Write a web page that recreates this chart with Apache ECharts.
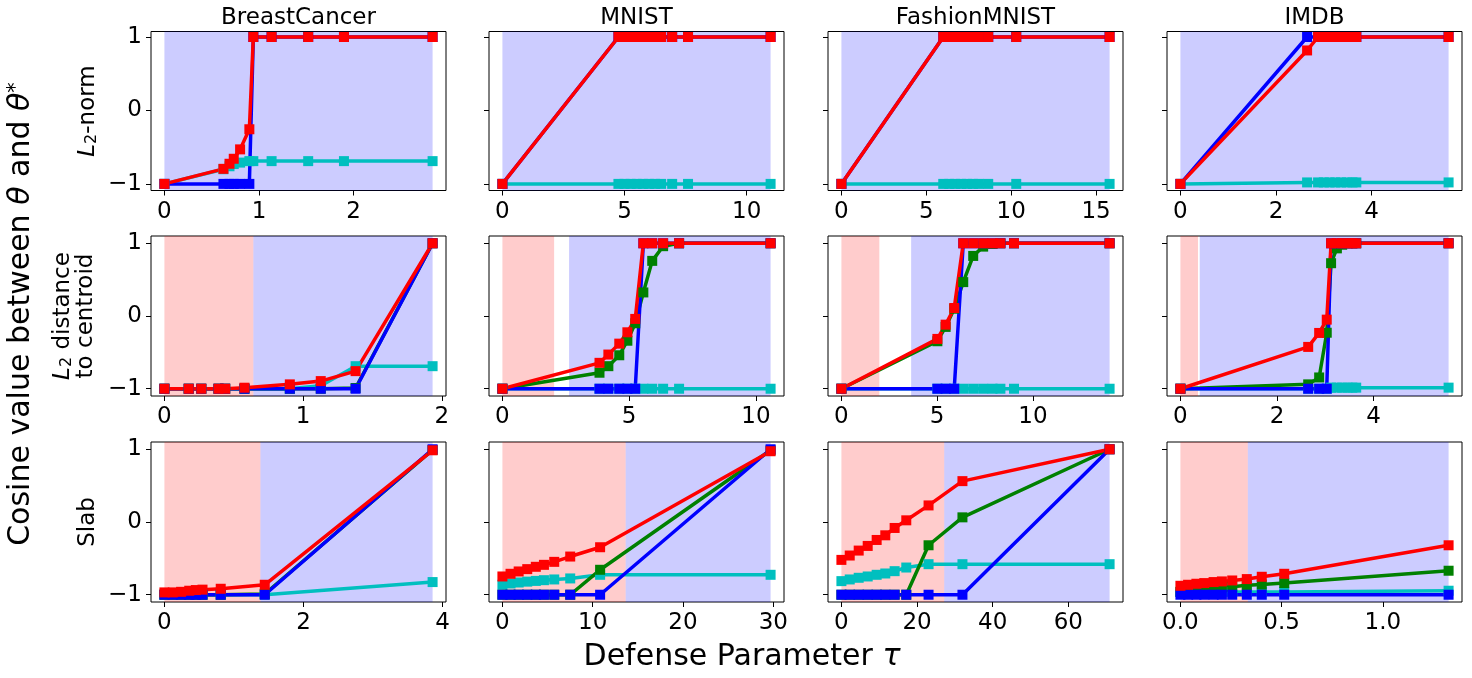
<!DOCTYPE html>
<html><head><meta charset="utf-8">
<script src="https://cdn.jsdelivr.net/npm/echarts@6/dist/echarts.min.js"></script>
<style>html,body{margin:0;padding:0;background:#fff}#c{width:1472px;height:678px}</style>
</head><body><div id="c"></div>
<script>
// ---------- DATA ----------
const datasetNames = ['BreastCancer', 'MNIST', 'FashionMNIST', 'IMDB'];
const yTicks = [-1, 0, 1];

// Row 1: L2-norm defense
const bc1_tau  = [0, 0.624, 0.688, 0.733, 0.80, 0.898, 0.94, 1.133, 1.52, 1.898, 2.835];
const bc1_cyan = [-1, -0.80, -0.76, -0.73, -0.71, -0.69, -0.69, -0.69, -0.69, -0.69, -0.69];
const bc1_blue = [-1, -1, -1, -1, -1, -1, 1, 1, 1, 1, 1];
const bc1_red  = [-1, -0.795, -0.726, -0.658, -0.53, -0.256, 1, 1, 1, 1, 1];
const bc1_ticks = [0, 1, 2];

const mn1_tau  = [0, 4.75, 5.0, 5.25, 5.5, 5.75, 6.0, 6.25, 6.5, 6.95, 7.6, 10.98];
const mn1_cyan = [-1, -1, -1, -1, -1, -1, -1, -1, -1, -1, -1, -1];
const mn1_blue = [-1, 1, 1, 1, 1, 1, 1, 1, 1, 1, 1, 1];
const mn1_red  = [-1, 1, 1, 1, 1, 1, 1, 1, 1, 1, 1, 1];
const mn1_ticks = [0, 5, 10];

const fm1_tau  = [0, 6.0, 6.35, 6.7, 7.05, 7.4, 7.75, 8.1, 8.65, 10.3, 15.8];
const fm1_cyan = [-1, -1, -1, -1, -1, -1, -1, -1, -1, -1, -1];
const fm1_blue = [-1, 1, 1, 1, 1, 1, 1, 1, 1, 1, 1];
const fm1_red  = [-1, 1, 1, 1, 1, 1, 1, 1, 1, 1, 1];
const fm1_ticks = [0, 5, 10, 15];

const im1_tau  = [0, 2.65, 2.88, 3.0, 3.12, 3.24, 3.36, 3.48, 3.6, 3.68, 5.61];
const im1_cyan = [-1, -0.98, -0.98, -0.98, -0.98, -0.98, -0.98, -0.98, -0.98, -0.98, -0.98];
const im1_blue = [-1, 1, 1, 1, 1, 1, 1, 1, 1, 1, 1];
const im1_red  = [-1, 0.817, 1, 1, 1, 1, 1, 1, 1, 1, 1];
const im1_ticks = [0, 2, 4];

// Row 2: L2 distance to centroid defense
const bc2_tau   = [0, 0.175, 0.266, 0.39, 0.438, 0.577, 0.904, 1.127, 1.378, 1.933];
const bc2_cyan  = [-1, -1, -1, -1, -1, -1, -1, -0.96, -0.69, -0.69];
const bc2_green = [-1, -1, -1, -1, -1, -1, -1, -1, -0.99, 1];
const bc2_blue  = [-1, -1, -1, -1, -1, -1, -1, -1, -1, 1];
const bc2_red   = [-1, -1, -1, -1, -1, -0.986, -0.94, -0.895, -0.758, 1];
const bc2_spans = [0, 0.641, 0.641, 1.933];
const bc2_ticks = [0, 1, 2];

const mn2_tau   = [0, 3.83, 4.18, 4.61, 4.93, 5.24, 5.56, 5.91, 6.34, 6.97, 10.58];
const mn2_cyan  = [-1, -1, -1, -1, -1, -1, -1, -1, -1, -1, -1];
const mn2_green = [-1, -0.78, -0.69, -0.54, -0.34, -0.1, 0.324, 0.758, 0.96, 1, 1];
const mn2_blue  = [-1, -1, -1, -1, -1, -1, 1, 1, 1, 1, 1];
const mn2_red   = [-1, -0.644, -0.53, -0.38, -0.224, -0.04, 1, 1, 1, 1, 1];
const mn2_spans = [0, 2.04, 2.63, 10.58];
const mn2_ticks = [0, 5, 10];

const fm2_tau   = [0, 5.01, 5.44, 5.89, 6.36, 6.88, 7.4, 7.89, 8.3, 9.01, 14.0];
const fm2_cyan  = [-1, -1, -1, -1, -1, -1, -1, -1, -1, -1, -1];
const fm2_green = [-1, -0.347, -0.15, 0.1, 0.466, 0.826, 0.954, 0.99, 1, 1, 1];
const fm2_blue  = [-1, -1, -1, -1, 1, 1, 1, 1, 1, 1, 1];
const fm2_red   = [-1, -0.315, -0.119, 0.11, 1, 1, 1, 1, 1, 1, 1];
const fm2_spans = [0, 1.98, 3.64, 14.0];
const fm2_ticks = [0, 5, 10];

const im2_tau   = [0, 2.646, 2.873, 3.03, 3.12, 3.24, 3.35, 3.46, 3.56, 3.64, 5.553];
const im2_cyan  = [-1, -1, -1, -1, -0.985, -0.985, -0.985, -0.985, -0.985, -0.985, -0.985];
const im2_green = [-1, -0.94, -0.845, -0.23, 0.726, 0.93, 0.98, 1, 1, 1, 1];
const im2_blue  = [-1, -1, -1, -1, 1, 1, 1, 1, 1, 1, 1];
const im2_red   = [-1, -0.425, -0.233, -0.05, 1, 1, 1, 1, 1, 1, 1];
const im2_spans = [0, 0.364, 0.4, 5.553];
const im2_ticks = [0, 2, 4];

// Row 3: Slab defense
const bc3_tau   = [0, 0.12, 0.24, 0.357, 0.452, 0.548, 0.81, 1.443, 3.857];
const bc3_cyan  = [-1, -1, -1, -1, -1, -1, -1, -1, -0.826];
const bc3_green = [-1, -1, -1, -1, -1, -1, -1, -0.99, 0.99];
const bc3_blue  = [-1, -1, -1, -1, -1, -1, -1, -1, 1];
const bc3_red   = [-0.968, -0.968, -0.96, -0.945, -0.936, -0.93, -0.918, -0.863, 0.986];
const bc3_spans = [0, 1.381, 1.381, 3.857];
const bc3_ticks = [0, 2, 4];

const mn3_tau   = [0, 0.9, 1.8, 2.75, 3.7, 4.6, 5.74, 7.51, 10.82, 29.7];
const mn3_cyan  = [-0.863, -0.845, -0.832, -0.82, -0.81, -0.80, -0.79, -0.776, -0.726, -0.726];
const mn3_green = [-1, -1, -1, -1, -1, -1, -1, -1, -0.657, 0.986];
const mn3_blue  = [-1, -1, -1, -1, -1, -1, -1, -1, -1, 1];
const mn3_red   = [-0.749, -0.712, -0.68, -0.648, -0.616, -0.589, -0.548, -0.475, -0.347, 0.973];
const mn3_spans = [0, 13.65, 13.65, 29.7];
const mn3_ticks = [0, 10, 20, 30];

const fm3_tau   = [0, 2.2, 4.57, 6.95, 9.32, 11.6, 14.07, 17.15, 23.04, 32.0, 70.9];
const fm3_cyan  = [-0.813, -0.79, -0.767, -0.749, -0.726, -0.708, -0.676, -0.626, -0.58, -0.58, -0.58];
const fm3_green = [-1, -1, -1, -1, -1, -1, -1, -1, -0.32, 0.064, 1];
const fm3_blue  = [-1, -1, -1, -1, -1, -1, -1, -1, -1, -1, 1];
const fm3_red   = [-0.521, -0.461, -0.393, -0.329, -0.247, -0.183, -0.082, 0.023, 0.228, 0.562, 1];
const fm3_spans = [0, 27.18, 27.18, 70.9];
const fm3_ticks = [0, 20, 40, 60];

const im3_tau   = [0, 0.038, 0.079, 0.118, 0.164, 0.205, 0.256, 0.328, 0.402, 0.513, 1.325];
const im3_cyan  = [-0.963, -0.963, -0.963, -0.963, -0.963, -0.963, -0.963, -0.963, -0.963, -0.963, -0.945];
const im3_green = [-0.96, -0.95, -0.94, -0.92, -0.91, -0.9, -0.89, -0.87, -0.86, -0.84, -0.67];
const im3_blue  = [-1, -1, -1, -1, -1, -1, -1, -1, -1, -1, -1];
const im3_red   = [-0.877, -0.863, -0.849, -0.84, -0.826, -0.817, -0.804, -0.785, -0.753, -0.712, -0.32];
const im3_spans = [0, 0.333, 0.333, 1.325];
const im3_ticks = [0, 0.5, 1.0];

// ---------- PANELS ----------
const panels = [
  {tau: bc1_tau, s: {cyan: bc1_cyan, blue: bc1_blue, red: bc1_red}, spans: null, ticks: bc1_ticks, dec: 0},
  {tau: mn1_tau, s: {cyan: mn1_cyan, blue: mn1_blue, red: mn1_red}, spans: null, ticks: mn1_ticks, dec: 0},
  {tau: fm1_tau, s: {cyan: fm1_cyan, blue: fm1_blue, red: fm1_red}, spans: null, ticks: fm1_ticks, dec: 0},
  {tau: im1_tau, s: {cyan: im1_cyan, blue: im1_blue, red: im1_red}, spans: null, ticks: im1_ticks, dec: 0},
  {tau: bc2_tau, s: {cyan: bc2_cyan, green: bc2_green, blue: bc2_blue, red: bc2_red}, spans: bc2_spans, ticks: bc2_ticks, dec: 0},
  {tau: mn2_tau, s: {cyan: mn2_cyan, green: mn2_green, blue: mn2_blue, red: mn2_red}, spans: mn2_spans, ticks: mn2_ticks, dec: 0},
  {tau: fm2_tau, s: {cyan: fm2_cyan, green: fm2_green, blue: fm2_blue, red: fm2_red}, spans: fm2_spans, ticks: fm2_ticks, dec: 0},
  {tau: im2_tau, s: {cyan: im2_cyan, green: im2_green, blue: im2_blue, red: im2_red}, spans: im2_spans, ticks: im2_ticks, dec: 0},
  {tau: bc3_tau, s: {cyan: bc3_cyan, green: bc3_green, blue: bc3_blue, red: bc3_red}, spans: bc3_spans, ticks: bc3_ticks, dec: 0},
  {tau: mn3_tau, s: {cyan: mn3_cyan, green: mn3_green, blue: mn3_blue, red: mn3_red}, spans: mn3_spans, ticks: mn3_ticks, dec: 0},
  {tau: fm3_tau, s: {cyan: fm3_cyan, green: fm3_green, blue: fm3_blue, red: fm3_red}, spans: fm3_spans, ticks: fm3_ticks, dec: 0},
  {tau: im3_tau, s: {cyan: im3_cyan, green: im3_green, blue: im3_blue, red: im3_red}, spans: im3_spans, ticks: im3_ticks, dec: 1}
];

const COLORS = {cyan: '#00bfbf', green: '#008000', blue: '#0000ff', red: '#ff0000'};
const ORDER = ['cyan', 'green', 'blue', 'red'];
const colLeft = [151, 489, 828, 1167], colW = 295;
const rowTop = [31.5, 236, 442], rowH = [159, 160, 160];
const yRange = [[-1.09, 1.075], [-1.1, 1.1], [-1.1, 1.1]];
const FONT = 'DejaVu Sans';
const FS = 23;

const grids = [], xAxes = [], yAxes = [], series = [];
panels.forEach((p, i) => {
  const r = Math.floor(i / 4), c = i % 4;
  grids.push({left: colLeft[c], top: rowTop[r], width: colW, height: rowH[r],
    show: true, borderColor: '#000', borderWidth: 1, backgroundColor: 'rgba(0,0,0,0)'});
  const xmin = Math.min(...p.tau), xmax = Math.max(...p.tau), span = xmax - xmin;
  xAxes.push({type: 'value', gridIndex: i, min: xmin - 0.05 * span, max: xmax + 0.05 * span,
    axisLine: {show: false, onZero: false}, splitLine: {show: false},
    axisTick: {show: true, length: 5, lineStyle: {color: '#000', width: 1}, customValues: p.ticks},
    axisLabel: {customValues: p.ticks, fontSize: FS, fontFamily: FONT, color: '#000', margin: 10,
      formatter: v => v.toFixed(p.dec)}});
  yAxes.push({type: 'value', gridIndex: i, min: yRange[r][0], max: yRange[r][1],
    axisLine: {show: false, onZero: false}, splitLine: {show: false},
    axisTick: {show: true, length: 5, lineStyle: {color: '#000', width: 1}, customValues: yTicks},
    axisLabel: {show: c === 0, customValues: yTicks, fontSize: FS, fontFamily: FONT, color: '#000', margin: 9,
      formatter: v => v < 0 ? '\u2212' + (-v) : String(v)}});
  let first = true;
  ORDER.forEach(k => {
    const ys = p.s[k];
    if (!ys) return;
    const col = COLORS[k];
    const ser = {type: 'line', xAxisIndex: i, yAxisIndex: i, silent: true,
      data: p.tau.map((t, j) => [t, ys[j]]),
      symbol: 'rect', symbolSize: 10, showAllSymbol: true,
      lineStyle: {width: 3.5, color: col}, itemStyle: {color: col}};
    if (first) {
      const areas = p.spans
        ? [[{xAxis: p.spans[0], itemStyle: {color: 'rgba(255,0,0,0.2)'}}, {xAxis: p.spans[1]}],
           [{xAxis: p.spans[2], itemStyle: {color: 'rgba(0,0,255,0.2)'}}, {xAxis: p.spans[3]}]]
        : [[{xAxis: 0, itemStyle: {color: 'rgba(0,0,255,0.2)'}}, {xAxis: xmax}]];
      ser.markArea = {silent: true, data: areas, label: {show: false}};
      first = false;
    }
    series.push(ser);
  });
});

const graphics = [];
datasetNames.forEach((n, c) => {
  graphics.push({type: 'text', x: colLeft[c] + colW / 2, y: 18,
    style: {text: n, fontSize: FS, fontFamily: FONT, fill: '#000', align: 'center', verticalAlign: 'middle'}});
});
const richS = {
  n: {fontSize: FS, fontFamily: FONT, color: '#000'},
  i: {fontSize: FS, fontFamily: FONT, fontStyle: 'italic', color: '#000'},
  s: {fontSize: 16, fontFamily: FONT, color: '#000', verticalAlign: 'bottom', lineHeight: 16, padding: [12, 0, 0, 0]}
};
graphics.push({type: 'text', x: 88, y: 111, rotation: Math.PI / 2,
  style: {text: '{i|L}{s|2}{n|-norm}', rich: richS, align: 'center', verticalAlign: 'middle'}});
graphics.push({type: 'text', x: 75, y: 316, rotation: Math.PI / 2,
  style: {text: '{i|L}{s|2}{n| distance}\n{n|to centroid}', rich: richS, align: 'center', verticalAlign: 'middle'}});
graphics.push({type: 'text', x: 88, y: 522, rotation: Math.PI / 2,
  style: {text: 'Slab', fontSize: FS, fontFamily: FONT, fill: '#000', align: 'center', verticalAlign: 'middle'}});
const richL = {
  n: {fontSize: 30, fontFamily: FONT, color: '#000'},
  i: {fontSize: 30, fontFamily: FONT, fontStyle: 'italic', color: '#000'},
  p: {fontSize: 21, fontFamily: FONT, color: '#000', verticalAlign: 'top', lineHeight: 21, padding: [0, 0, 14, 0]}
};
graphics.push({type: 'text', x: 21, y: 314, rotation: Math.PI / 2,
  style: {text: '{n|Cosine value between }{i|θ}{n| and }{i|θ}{p|*}', rich: richL, align: 'center', verticalAlign: 'middle'}});
graphics.push({type: 'text', x: 742, y: 657,
  style: {text: '{n|Defense Parameter }{i|τ}', rich: richL, align: 'center', verticalAlign: 'middle'}});

const chart = echarts.init(document.getElementById('c'), null, {renderer: 'canvas'});
chart.setOption({
  animation: false,
  backgroundColor: '#fff',
  grid: grids, xAxis: xAxes, yAxis: yAxes, series: series, graphic: graphics
});
</script></body></html>
